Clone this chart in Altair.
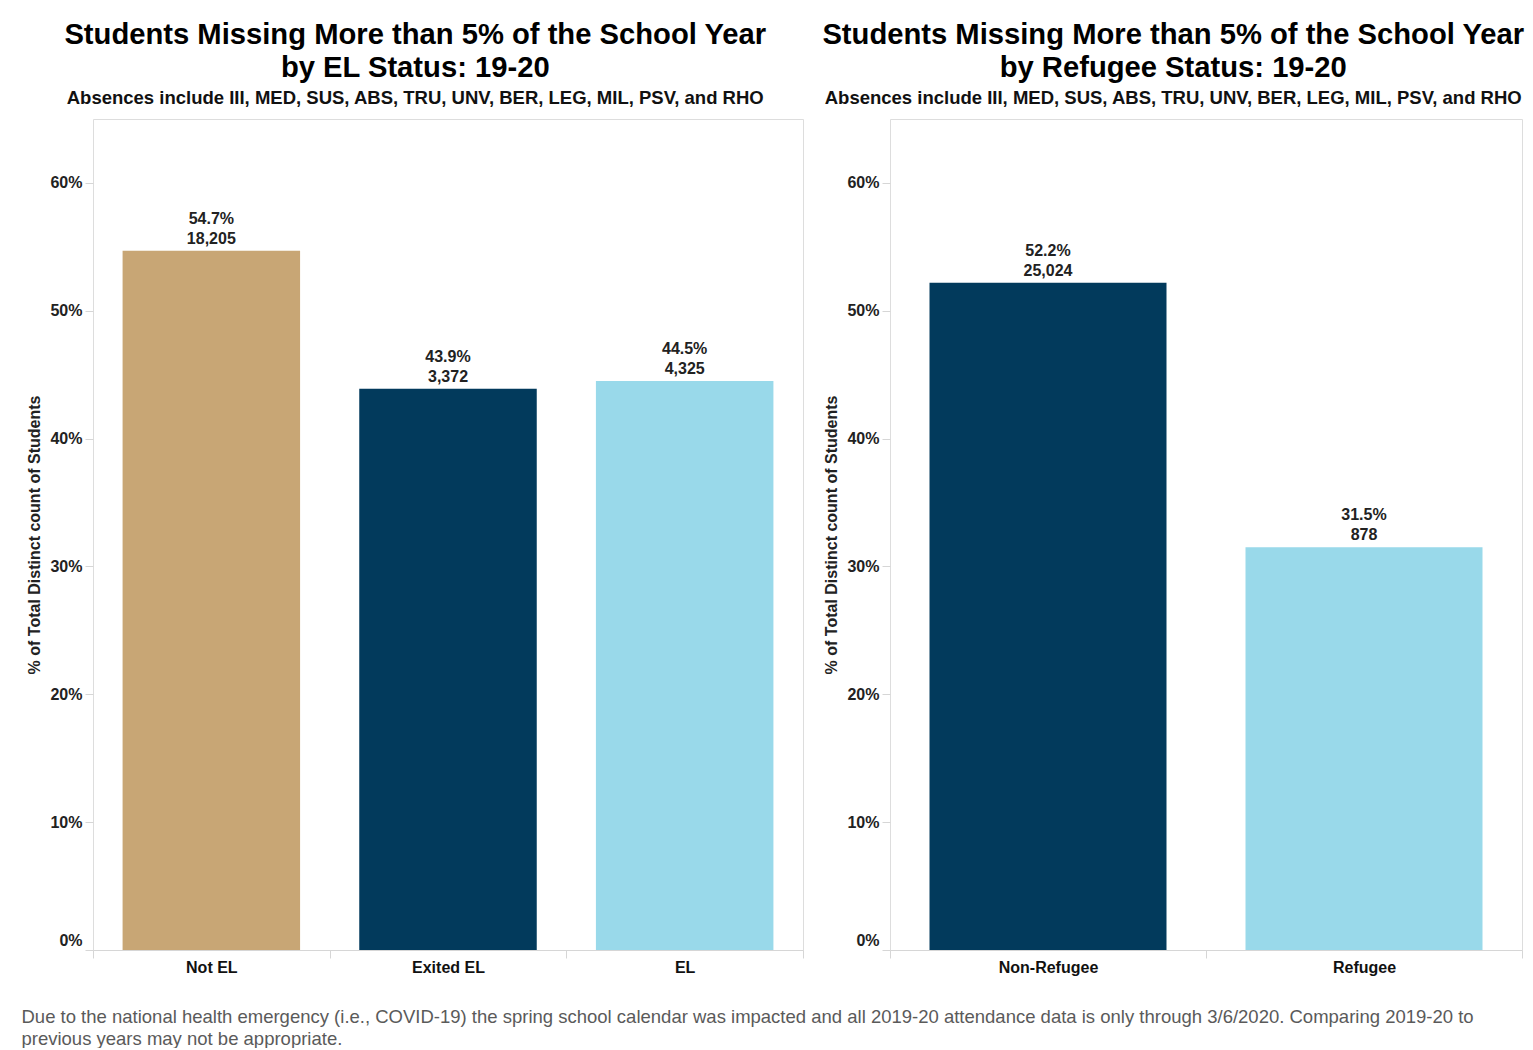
import altair as alt
import pandas as pd

# ---- data ----
el_categories = ["Not EL", "Exited EL", "EL"]
el_pct = [54.7, 43.9, 44.5]
el_count = [18205, 3372, 4325]
el_colors = ["#C8A675", "#023A5C", "#99D9EA"]

ref_categories = ["Non-Refugee", "Refugee"]
ref_pct = [52.2, 31.5]
ref_count = [25024, 878]
ref_colors = ["#023A5C", "#99D9EA"]

y_ticks = [0, 10, 20, 30, 40, 50, 60]

title_line1 = "Students Missing More than 5% of the School Year"
el_title2 = "by EL Status: 19-20"
ref_title2 = "by Refugee Status: 19-20"
subtitle = "Absences include III, MED, SUS, ABS, TRU, UNV, BER, LEG, MIL, PSV, and RHO"
y_title = "% of Total Distinct count of Students"
footnote = [
    "Due to the national health emergency (i.e., COVID-19) the spring school calendar was impacted and all 2019-20 attendance data is only through 3/6/2020. Comparing 2019-20 to",
    "previous years may not be appropriate.",
]

FONT = "Liberation Sans"
GRAY = "#d6d6d6"


def make_panel(cats, pct, cnt, colors, title2, width):
    df = pd.DataFrame({"cat": cats, "pct": pct, "cnt": cnt, "col": colors})
    df["label"] = [f"{p:.1f}%\n{c:,}" for p, c in zip(pct, cnt)]
    base = alt.Chart(df)
    x = alt.X(
        "cat:N",
        sort=cats,
        title=None,
        scale=alt.Scale(paddingInner=0, paddingOuter=0),
        axis=alt.Axis(
            labelAngle=0,
            tickBand="extent",
            tickSize=8,
            tickColor=GRAY,
            domainColor=GRAY,
            labelFont=FONT,
            labelFontSize=16,
            labelFontWeight="bold",
            labelColor="#111111",
            labelPadding=1,
        ),
    )
    y = alt.Y(
        "pct:Q",
        scale=alt.Scale(domain=[0, 65], nice=False),
        axis=alt.Axis(
            values=y_ticks,
            labelExpr="datum.value + '%'",
            title=y_title,
            grid=False,
            domain=False,
            tickSize=8,
            tickColor=GRAY,
            labelFont=FONT,
            labelFontSize=16,
            labelFontWeight="bold",
            labelColor="#222222",
            labelPadding=3,
            labelFlush=True,
            labelFlushOffset=-2,
            titleFont=FONT,
            titleFontSize=16,
            titleFontWeight="bold",
            titleColor="#222222",
            titlePadding=7,
        ),
    )
    bars = base.mark_bar(width=alt.RelativeBandSize(0.75)).encode(
        x=x,
        y=y,
        color=alt.Color("col:N", scale=None, legend=None),
    )
    text = base.mark_text(
        baseline="bottom",
        dy=-24,
        lineBreak="\n",
        lineHeight=20,
        font=FONT,
        fontSize=16,
        fontWeight="bold",
        color="#222222",
    ).encode(x=alt.X("cat:N", sort=cats), y="pct:Q", text="label:N")
    return (bars + text).properties(
        width=width,
        height=831,
        title=alt.TitleParams(
            text=[title_line1, title2],
            subtitle=subtitle,
            font=FONT,
            fontSize=29.2,
            fontWeight="bold",
            color="#000000",
            lineHeight=33,
            subtitleFont=FONT,
            subtitleFontSize=18.5,
            subtitleFontWeight="bold",
            subtitleColor="#111111",
            subtitlePadding=5,
            anchor="middle",
            frame="bounds",
            offset=12,
        ),
    )


left = make_panel(el_categories, el_pct, el_count, el_colors, el_title2, 710)
right = make_panel(ref_categories, ref_pct, ref_count, ref_colors, ref_title2, 632)

chart = (
    alt.hconcat(left, right, spacing=17)
    .properties(
        padding={"left": 21, "top": 20, "right": 5, "bottom": 0},
        title=alt.TitleParams(
            text=footnote,
            orient="bottom",
            anchor="start",
            frame="bounds",
            font=FONT,
            fontSize=18.5,
            fontWeight="normal",
            color="#5a5a5a",
            lineHeight=22,
            offset=32,
            dx=-5,
        ),
    )
    .configure_view(stroke=GRAY, strokeWidth=1)
    .configure(background="white")
)

chart.save("out.html", embed_options={"renderer": "svg", "actions": False})
